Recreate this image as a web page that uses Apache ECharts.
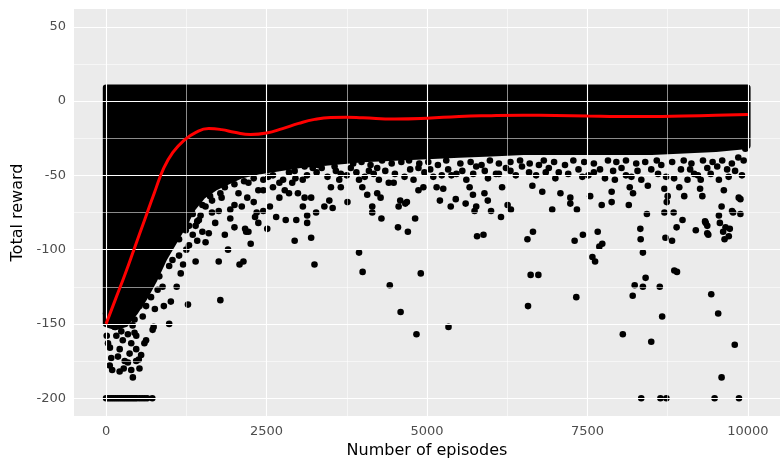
<!DOCTYPE html>
<html><head><meta charset="utf-8">
<script src="https://cdn.jsdelivr.net/npm/echarts@6/dist/echarts.min.js"></script>
<style>html,body{margin:0;padding:0;background:#fff}#c{width:780px;height:466px}</style>
</head><body><div id="c"></div>
<script>
// ---- data ----
const xTicks = [0, 2500, 5000, 7500, 10000];
const yTicks = [-200, -150, -100, -50, 0, 50];
const xMinor = [1250, 3750, 6250, 8750];
const yMinor = [-175, -125, -75, -25, 25];

// dense core of the cloud (upper and lower edge of the solid black mass)
const bandX    = [0,150,300,450,600,750,900,1050,1200,1350,1500,1700,1900,2100,2400,2700,3000,3500,4000,4500,5000,5500,6000,6500,7000,7500,8000,8500,9000,9500,9990];
const bandLow  = [-150,-152,-150,-142,-132,-120,-106,-95,-84,-72,-64,-58,-54,-50,-47,-45,-43,-41,-39,-38,-37,-36,-35,-34,-34,-34,-34,-34,-33,-32,-30];
const bandHigh = [9,9,9,9,9,9,9,9,9,9,9,9,9,9,9,9,9,9,9,9,9,9,9,9,9,9,9,9,9,9,9];

// individually visible episodes outside the dense core
const sparseX = [
 0,10,30,60,80,95,212,260,340,290,275,340,417,509,520,597,725,741,983,443,571,160,315,413,520,1009,1276,1780,470,160,623,700,803,880,829,983,1034,829,1137,1137,1292,1241,1395,1472,1420,1163,1935,1600,1420,1395,1755,2079,2140,2253,2166,2182,2511,2449,2346,2114,2321,2372,2218,1292,1446,1549,1651,1755,1935,2063,2218,2372,2552,2758,2784,2526,2938,2989,3066,3093,
 134,237,392,469,546,185,366,443,623,57,211,392,469,
 650,760,900,1100,1200,950,1250,1350,1500,1550,1700,1850,1900,2000,1650,1800,2000,2200,2300,2450,2600,2700,2850,2900,2650,
 1250,1350,1500,1620,1780,1850,2000,2150,2300,2450,2600,2700,2850,2950,
 2799,2963,3133,3133,3272,2938,3195,3247,3941,3997,4420,4589,4836,4903,5335,4548,4702,4815,4147,4290,4147,4558,5370,5741,5602,3761,3401,3530,4583,4687,5201,3064,3220,3360,3503,3093,3195,3478,3633,3657,3657,3812,3941,3992,4069,4095,4224,4250,4224,4277,4404,4481,4662,4738,4790,4867,4944,4867,5098,5150,5253,5381,5458,5448,5613,5664,5716,5767,5895,5947,5998,5767,
 6153,6256,6951,7233,7336,7722,7877,8144,8426,8699,8843,8735,8981,8889,9188,9332,9367,9383,9563,9548,9590,9614,9636,9718,9769,9883,9883,5780,5880,6565,6651,7300,7429,7660,7685,7731,7577,7619,8324,8329,8364,8715,8818,6615,6735,6574,7326,8205,8236,8364,8406,8627,8664,8853,8895,9429,9537,8051,8494,9795,9590,
 6170,6307,6075,6642,6796,7079,7233,7542,7877,7927,8159,8210,8441,8699,8750,8931,9008,9255,9290,6384,6590,6744,6898,7053,7361,7515,7696,7773,8031,8185,8339,8494,8725,8957,9059,9162,9367,6230,9960,9934,9907,9857,9753,9651,9702,9625,9548,9522,9676,9265,9343,9367,
 3050,3180,3300,3420,3560,3700,3850,3980,4120,4300,4450,4600,4720,4880,5020,5170,5300,5520,5680,5850,5980,6120,6300,6450,6600,6820,6980,7150,7280,7450,7600,7820,7950,8100,8260,8400,8580,8650,8820,9000,9120,9300,9450,9600,9750,9850,
 3130,3280,3450,3580,3750,3900,4030,4170,4350,4500,4650,4960,5050,5230,5330,5550,5720,5900,5950,6120,6300,6480,6700,6850,7000,7200,7420,7600,7900,8100,8280,8600,8850,9100,9220,9420,9700,9800,
 0,30,60,90,120,150,180,210,240,270,300,330,360,390,420,450,480,520,560,600,640,720,8338,8637,8730,9481,9861
];
const sparseY = [
 -143,-158,-163,-166,-173,-181,-167,-161,-157,-175,-180,-176,-186,-174,-180,-163,-154,-152,-150,-147,-145,-146,-143,-151,-138,-135,-137,-134,-158,-158,-138,-132,-127,-125,-118,-111,-107,-105,-104,-93,-97,-87,-84,-77,-81,-116,-79,-89,-94,-108,-108,-110,-108,-96,-86,-88,-86,-74,-75,-71,-78,-82,-88,-84,-80,-71,-67,-74,-73,-62,-55,-60,-71,-53,-60,-51,-47,-62,-71,-44,
 -152,-155,-163,-167,-171,-172,-170,-156,-161,-178,-182,-181,-175,
 -125,-140,-138,-125,-110,-95,-100,-90,-88,-95,-82,-90,-100,-85,-75,-65,-70,-65,-68,-60,-58,-65,-62,-55,-78,
 -80,-76,-70,-64,-62,-58,-56,-54,-52,-53,-50,-55,-48,-52,
 -80,-80,-77,-82,-75,-94,-92,-110,-102,-115,-124,-142,-157,-116,-152,-85,-88,-79,-75,-79,-71,-71,-71,-74,-69,-68,-71,-72,-67,-68,-67,-53,-45,-45,-58,-65,-65,-67,-53,-58,-49,-45,-53,-58,-63,-47,-45,-53,-62,-65,-55,-55,-69,-46,-53,-60,-58,-45,-51,-58,-59,-50,-49,-66,-53,-58,-63,-71,-62,-67,-74,-44,
 -78,-70,-73,-69,-73,-70,-68,-70,-76,-75,-75,-68,-80,-85,-87,-81,-84,-90,-82,-77,-71,-88,-93,-86,-75,-76,-66,-91,-90,-93,-88,-94,-90,-88,-98,-96,-105,-108,-86,-93,-102,-92,-94,-117,-117,-138,-132,-131,-124,-125,-119,-125,-145,-114,-115,-130,-143,-157,-162,-164,-186,
 -58,-73,-49,-57,-61,-62,-65,-64,-61,-53,-58,-62,-57,-59,-64,-58,-64,-59,-64,-50,-48,-43,-45,-48,-46,-50,-46,-52,-45,-51,-53,-46,-51,-46,-53,-49,-45,-45,-32,-40,-50,-65,-74,-85,-91,-60,-53,-44,-46,-53,-82,-89,
 -42,-40,-43,-41,-44,-40,-42,-41,-43,-40,-42,-41,-40,-42,-41,-43,-40,-42,-41,-43,-40,-42,-41,-40,-42,-40,-41,-43,-40,-41,-42,-40,-41,-40,-42,-41,-40,-43,-41,-40,-42,-40,-41,-40,-42,-38,
 -50,-48,-51,-47,-50,-48,-51,-49,-47,-49,-51,-48,-46,-50,-46,-47,-49,-47,-52,-49,-47,-44,-50,-48,-52,-49,-51,-48,-47,-50,-47,-49,-52,-46,-50,-49,-51,-47,
 -200,-200,-200,-200,-200,-200,-200,-200,-200,-200,-200,-200,-200,-200,-200,-200,-200,-200,-200,-200,-200,-200,-200,-200,-200,-200,-200
];

// loess smooth (red line)
const smoothX = [0,150,300,450,600,750,900,1050,1200,1400,1600,1800,2000,2250,2500,2750,3000,3250,3500,3750,4000,4500,5000,5500,6000,6500,7000,7500,8000,8500,9000,9500,10000];
const smoothY = [-150,-133,-116,-98,-80,-62,-45,-34,-27,-21,-18.5,-19.2,-21,-22.5,-21.5,-18.5,-15,-12.3,-11,-10.8,-11.2,-12,-11.5,-10.3,-9.8,-9.6,-9.7,-10,-10.3,-10.3,-10,-9.6,-9];

// ---- chart ----
const chart = echarts.init(document.getElementById('c'), null, {renderer: 'canvas'});
const FONT = 'DejaVu Sans';
const gridLines = [];
xTicks.forEach(v => gridLines.push({xAxis: v, lineStyle: {color: '#FFFFFF', width: 1.1, type: 'solid'}}));
xMinor.forEach(v => gridLines.push({xAxis: v, lineStyle: {color: '#FFFFFF', width: 0.55, type: 'solid'}}));
yTicks.forEach(v => gridLines.push({yAxis: v, lineStyle: {color: '#FFFFFF', width: 1.1, type: 'solid'}}));
yMinor.forEach(v => gridLines.push({yAxis: v, lineStyle: {color: '#FFFFFF', width: 0.55, type: 'solid'}}));

const scatterData = sparseX.map((x, i) => [x, sparseY[i]]);
const smoothData = smoothX.map((x, i) => [x, smoothY[i]]);
const bandData = bandX.map((x, i) => [x, bandLow[i]]);

chart.setOption({
  animation: false,
  backgroundColor: '#FFFFFF',
  grid: {left: 74, top: 9, width: 713, height: 407, show: true, backgroundColor: '#EBEBEB', borderWidth: 0, containLabel: false},
  xAxis: {
    type: 'value', min: -500, max: 10500,
    name: 'Number of episodes', nameLocation: 'middle', nameGap: 27,
    nameTextStyle: {color: '#000000', fontSize: 16, fontFamily: FONT},
    axisLine: {show: false},
    axisTick: {show: true, length: 4, lineStyle: {color: '#333333', width: 1}, customValues: xTicks},
    axisLabel: {show: true, customValues: xTicks, margin: 9, color: '#4D4D4D', fontSize: 13, fontFamily: FONT, formatter: v => String(v)},
    splitLine: {show: false}, minorSplitLine: {show: false}
  },
  yAxis: {
    type: 'value', min: -212, max: 62,
    name: 'Total reward', nameLocation: 'middle', nameGap: 47, nameRotate: 90,
    nameTextStyle: {color: '#000000', fontSize: 16, fontFamily: FONT},
    axisLine: {show: false},
    axisTick: {show: true, length: 4, lineStyle: {color: '#333333', width: 1}, customValues: yTicks},
    axisLabel: {show: true, customValues: yTicks, margin: 8, color: '#4D4D4D', fontSize: 13, fontFamily: FONT, formatter: v => String(v)},
    splitLine: {show: false}, minorSplitLine: {show: false}
  },
  series: [
    {type: 'line', data: [], z: 1, silent: true,
     markLine: {silent: true, symbol: ['none', 'none'], label: {show: false}, animation: false, data: gridLines}},
    {type: 'custom', z: 2, silent: true, data: bandData, encode: {x: 0, y: 1},
     renderItem: function (params, api) {
       if (params.dataIndex !== 0) return null;
       const pts = [];
       for (let i = 0; i < bandX.length; i++) pts.push(api.coord([bandX[i], bandHigh[i]]));
       for (let i = bandX.length - 1; i >= 0; i--) pts.push(api.coord([bandX[i], bandLow[i]]));
       return {type: 'polygon', shape: {points: pts}, style: {fill: '#000000', stroke: '#000000', lineWidth: 6.6, lineJoin: 'round'}};
     }},
    {type: 'scatter', z: 3, silent: true, data: scatterData, symbol: 'circle', symbolSize: 6.6,
     itemStyle: {color: '#000000', borderWidth: 0, opacity: 1}},
    {type: 'line', z: 5, silent: true, data: smoothData, smooth: true, showSymbol: false, symbol: 'none',
     lineStyle: {color: '#FF0000', width: 3}}
  ]
});
</script></body></html>
